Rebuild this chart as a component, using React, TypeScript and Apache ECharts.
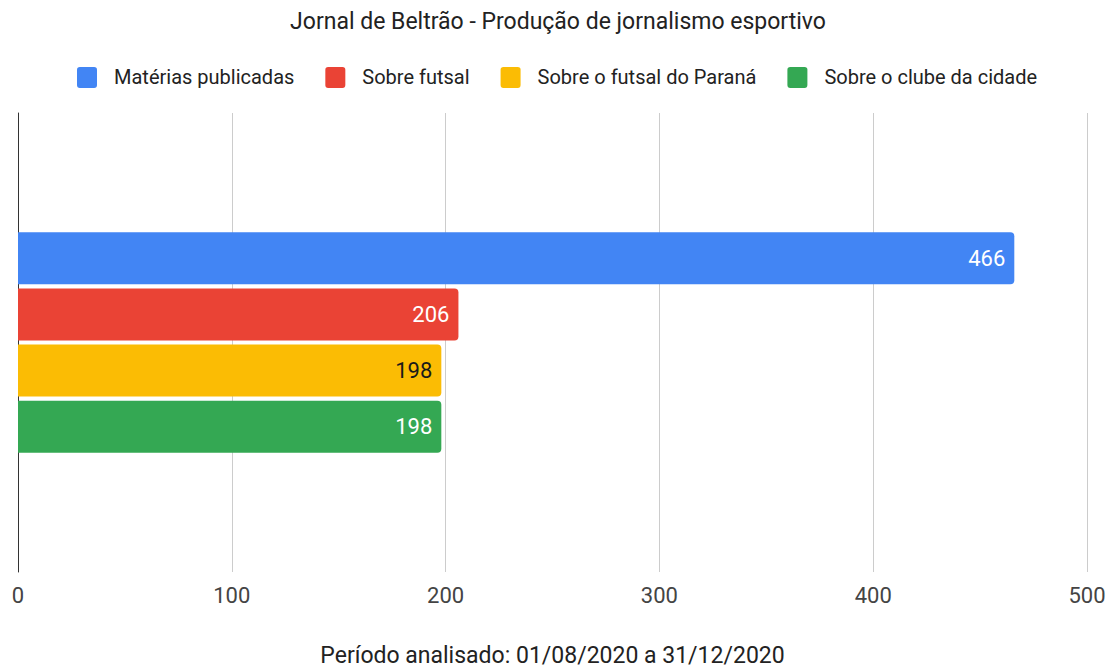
import React, { useEffect, useRef } from "react";
import * as echarts from "echarts";

const title = "Jornal de Beltrão - Produção de jornalismo esportivo";
const axisName = "Período analisado: 01/08/2020 a 31/12/2020";
const categories = [""];
const seriesNames = [
  "Matérias publicadas",
  "Sobre futsal",
  "Sobre o futsal do Paraná",
  "Sobre o clube da cidade",
];
const seriesValues = [466, 206, 198, 198];
const seriesColors = ["#4285F4", "#EA4335", "#FBBC04", "#34A853"];
const labelColors = ["#ffffff", "#ffffff", "#1a1a1a", "#ffffff"];
const xTicks = [0, 100, 200, 300, 400, 500];

const FONT = "Roboto, 'Liberation Sans', Arial, sans-serif";
const ICON =
  "path://M3,0 L18,0 Q21,0 21,3 L21,19 Q21,22 18,22 L3,22 Q0,22 0,19 L0,3 Q0,0 3,0 Z";

export default function App() {
  const ref = useRef<HTMLDivElement>(null);
  useEffect(() => {
    if (!ref.current) return;
    const chart = echarts.init(ref.current, undefined, { renderer: "svg" });
    chart.setOption({
      animation: false,
      backgroundColor: "#ffffff",
      title: {
        text: title,
        left: "center",
        top: 5,
        textStyle: { fontFamily: FONT, fontSize: 23, fontWeight: "normal", color: "#222222" },
      },
      legend: {
        top: 62,
        left: 72,
        itemWidth: 20,
        itemHeight: 22,
        itemGap: 31,
        icon: ICON,
        textStyle: { fontFamily: FONT, fontSize: 20, color: "#222222", padding: [0, 0, 0, 12] },
        data: seriesNames,
      },
      grid: { left: 18, right: 29, top: 113, bottom: 95, containLabel: false },
      xAxis: {
        type: "value",
        min: xTicks[0],
        max: xTicks[xTicks.length - 1],
        interval: 100,
        name: axisName,
        nameLocation: "middle",
        nameGap: 72,
        nameTextStyle: { fontFamily: FONT, fontSize: 23, color: "#222222" },
        axisLine: { show: false },
        axisTick: { show: false },
        axisLabel: { fontFamily: FONT, fontSize: 22, color: "#444444", margin: 12 },
        splitLine: { show: true, lineStyle: { color: "#cccccc", width: 1 } },
      },
      yAxis: {
        type: "category",
        data: categories,
        axisLine: { show: true, lineStyle: { color: "#333333", width: 1 } },
        axisTick: { show: false },
        axisLabel: { show: false },
        splitLine: { show: false },
      },
      series: seriesNames.map((name, i) => ({
        name,
        type: "bar",
        data: [seriesValues[i]],
        barWidth: 52,
        barGap: "8%",
        itemStyle: { color: seriesColors[i], borderRadius: [0, 4, 4, 0] },
        label: {
          show: true,
          position: "insideRight",
          distance: 9,
          fontFamily: FONT,
          fontSize: 22,
          color: labelColors[i],
        },
      })),
    });
    return () => chart.dispose();
  }, []);
  return (
    <div
      ref={ref}
      style={{ position: "fixed", left: 0, top: 0, width: 1116, height: 672 }}
    />
  );
}
